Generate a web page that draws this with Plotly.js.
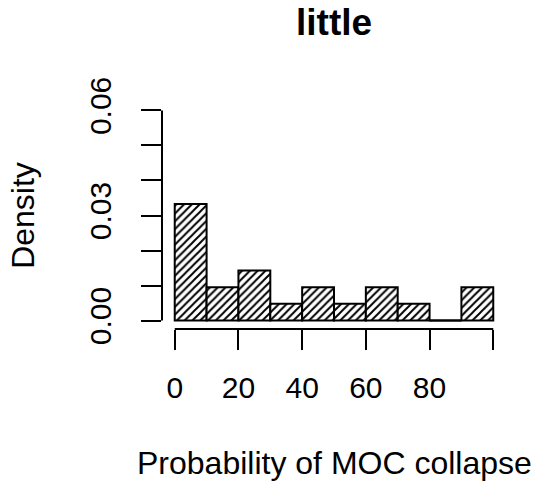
<!DOCTYPE html>
<html>
<head>
<meta charset="utf-8">
<script src="https://cdn.plot.ly/plotly-3.0.1.min.js"></script>
<style>html,body{margin:0;padding:0;background:#fff;}#chart{width:536px;height:488px;}</style>
</head>
<body>
<div id="chart"></div>
<script>
// Histogram bins (probability of MOC collapse, %)
const binCenters = [5, 15, 25, 35, 45, 55, 65, 75, 85, 95];
const binWidths = [10, 10, 10, 10, 10, 10, 10, 10, 10, 10];
const densities = [0.0333, 0.0095, 0.0143, 0.0048, 0.0095, 0.0048, 0.0095, 0.0048, 0.0, 0.0095];

const xTickVals = [0, 20, 40, 60, 80, 100];
const xTickText = ['0', '20', '40', '60', '80', ''];
const yTickVals = [0, 0.01, 0.02, 0.03, 0.04, 0.05, 0.06];
const yTickText = ['0.00', '', '', '0.03', '', '', '0.06'];

const FONT = 'Liberation Sans, Arial, Helvetica, sans-serif';

const trace = {
  type: 'bar',
  x: binCenters,
  y: densities,
  width: binWidths,
  marker: {
    color: 'white',
    line: {color: 'black', width: 2},
    pattern: {shape: '/', fgcolor: 'black', bgcolor: 'white', size: 5.5, solidity: 0.35}
  },
  hoverinfo: 'skip'
};

// empty bins are drawn by R as a flat outline along the baseline
const emptyX = [], emptyY = [];
densities.forEach((d, i) => {
  if (d === 0) {
    emptyX.push(binCenters[i] - binWidths[i] / 2, binCenters[i] + binWidths[i] / 2, null);
    emptyY.push(0, 0, null);
  }
});
const emptyTrace = {
  type: 'scatter', mode: 'lines', x: emptyX, y: emptyY,
  line: {color: 'black', width: 2}, hoverinfo: 'skip', cliponaxis: false
};

const layout = {
  width: 536, height: 488,
  margin: {l: 162, r: 30, t: 102, b: 159, pad: 0},
  paper_bgcolor: 'white', plot_bgcolor: 'white',
  showlegend: false,
  font: {family: FONT, size: 31, color: 'black'},
  xaxis: {
    range: [-4, 104], showgrid: false, zeroline: false, showline: false,
    tickmode: 'array', tickvals: xTickVals, ticktext: xTickText,
    ticks: 'outside', ticklen: 20, tickwidth: 2, tickcolor: 'black',
    ticklabelstandoff: 12,
    tickfont: {family: FONT, size: 30, color: 'black'}
  },
  yaxis: {
    range: [-0.0024, 0.0624], showgrid: false, zeroline: false, showline: false,
    tickmode: 'array', tickvals: yTickVals, ticktext: yTickText,
    ticks: 'outside', ticklen: 20, tickwidth: 2, tickcolor: 'black',
    tickangle: -90, ticklabelstandoff: 18,
    tickfont: {family: FONT, size: 30, color: 'black'}
  },
  shapes: [
    {type: 'line', xref: 'x', yref: 'paper', x0: 0, x1: 100, y0: 0, y1: 0, line: {color: 'black', width: 2}},
    {type: 'line', xref: 'paper', yref: 'y', x0: 0, x1: 0, y0: 0, y1: 0.06, line: {color: 'black', width: 2}}
  ],
  annotations: [
    {text: '<b>little</b>', xref: 'paper', yref: 'paper', x: 0.5, y: 1.352, xanchor: 'center', yanchor: 'middle', showarrow: false, font: {family: FONT, size: 37, color: 'black'}},
    {text: 'Probability of MOC collapse', xref: 'paper', yref: 'paper', x: 0.5, y: -0.589, xanchor: 'center', yanchor: 'middle', showarrow: false, font: {family: FONT, size: 32, color: 'black'}},
    {text: 'Density', xref: 'paper', yref: 'paper', x: -0.406, y: 0.5, xanchor: 'center', yanchor: 'middle', textangle: -90, showarrow: false, font: {family: FONT, size: 32, color: 'black'}}
  ]
};

Plotly.newPlot('chart', [trace, emptyTrace], layout, {staticPlot: true, displayModeBar: false});
</script>
</body>
</html>
